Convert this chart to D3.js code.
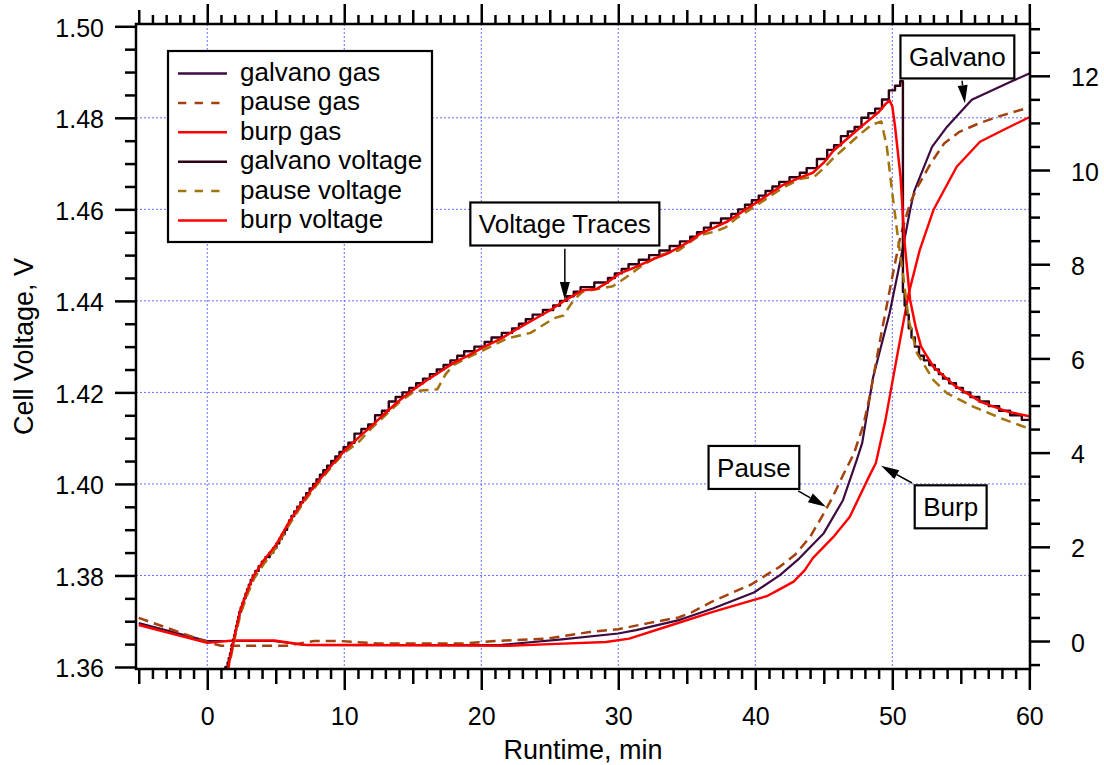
<!DOCTYPE html>
<html>
<head>
<meta charset="utf-8">
<script src="https://cdn.jsdelivr.net/npm/d3@7"></script>
<style>
  html, body { margin: 0; padding: 0; background: #fff; }
  svg { display: block; font-family: "Liberation Sans", Arial, Helvetica, sans-serif; }
</style>
</head>
<body>
<svg id="chart" width="1104" height="765"></svg>
<script>
// ---- Gas evolved (right axis) vs runtime (min), one series per charging mode ----
const galvanoGas = [[-5,0.38],[0,0.0],[4.8,0.0],[7.2,-0.085],[21.5,-0.08],[25.7,0.03],[30,0.16],[31.3,0.23],[34.5,0.45],[36.9,0.69],[39.9,1.03],[41.8,1.40],[43.2,1.75],[45.0,2.29],[46.4,2.99],[47.4,3.84],[47.8,4.2],[48.6,5.6],[49.8,6.96],[50.6,8.09],[51.3,9.15],[51.6,9.55],[52.9,10.49],[54.0,10.92],[55.8,11.49],[58.6,11.87],[60,12.05]];

const pauseGas = [[-5,0.49],[0,-0.02],[1,-0.1],[5.8,-0.1],[7.8,0.0],[9.7,0.0],[12.4,-0.05],[18.9,-0.05],[21,0.0],[24.8,0.05],[27.9,0.19],[30,0.25],[32.2,0.38],[34.4,0.50],[35.3,0.6],[36.8,0.83],[38.2,1.01],[39.7,1.20],[40.9,1.42],[41.8,1.58],[42.9,1.83],[44.0,2.21],[45.0,2.71],[45.6,3.03],[46.4,3.52],[47.2,3.98],[47.9,4.6],[48.4,5.26],[49.2,6.53],[50.0,7.73],[50.6,8.6],[51.3,9.3],[51.8,9.62],[52.8,10.14],[53.8,10.57],[54.9,10.81],[56.4,11.0],[57.9,11.15],[60,11.33]];

const burpGas = [[-5,0.34],[0,-0.04],[1.9,0.01],[4.9,0.01],[7,-0.08],[22,-0.1],[25.5,-0.06],[29.1,-0.02],[30.8,0.05],[33.9,0.34],[36.9,0.62],[39.4,0.83],[40.9,0.96],[41.6,1.07],[42.8,1.26],[43.6,1.5],[44.2,1.76],[45.7,2.21],[46.9,2.64],[48.3,3.49],[48.8,3.78],[49.5,4.69],[50.3,5.97],[51.2,7.38],[52.0,8.30],[53.0,9.15],[54.7,10.07],[56.4,10.60],[58.1,10.85],[60,11.12]];

// ---- Cell voltage (left axis) vs runtime (min) ----
// galvano voltage is logged at 1 mV resolution, so it is drawn as a staircase
const galvanoVoltage = [[1.2,1.357],[1.45,1.360],[1.53,1.361],[1.62,1.362],[1.70,1.363],[1.78,1.364],[1.85,1.365],[1.93,1.366],[2.00,1.367],[2.07,1.368],[2.15,1.369],[2.22,1.370],[2.30,1.371],[2.38,1.372],[2.51,1.373],[2.62,1.374],[2.73,1.375],[2.85,1.376],[2.97,1.377],[3.1,1.378],[3.24,1.379],[3.4,1.380],[3.63,1.381],[3.87,1.382],[4.1,1.383],[4.4,1.384],[4.7,1.385],[4.95,1.386],[5.15,1.387],[5.35,1.388],[5.55,1.389],[5.75,1.390],[5.9,1.391],[6.05,1.392],[6.25,1.393],[6.45,1.394],[6.7,1.395],[6.9,1.396],[7.1,1.397],[7.35,1.398],[7.6,1.399],[7.85,1.400],[8.1,1.401],[8.35,1.402],[8.6,1.403],[8.9,1.404],[9.2,1.405],[9.5,1.406],[9.8,1.407],[10.1,1.408],[10.5,1.409],[11.0,1.411],[11.5,1.412],[12.0,1.413],[12.5,1.415],[13.0,1.416],[13.5,1.418],[14.0,1.419],[14.5,1.420],[15.0,1.421],[15.5,1.422],[16.0,1.423],[16.5,1.424],[17.0,1.425],[17.5,1.426],[18.0,1.427],[18.5,1.428],[19.0,1.429],[20.0,1.430],[20.5,1.431],[21.0,1.432],[22.0,1.433],[22.5,1.434],[23.0,1.435],[23.5,1.436],[24.0,1.437],[25.0,1.438],[25.5,1.439],[26.0,1.440],[26.5,1.441],[27.0,1.442],[27.5,1.443],[29.0,1.444],[29.5,1.445],[30.0,1.446],[30.5,1.447],[31.0,1.448],[32.0,1.449],[32.5,1.450],[33.5,1.451],[34.0,1.452],[35.0,1.453],[35.5,1.454],[36.0,1.455],[36.5,1.456],[37.0,1.457],[38.0,1.458],[38.5,1.459],[39.0,1.460],[39.5,1.461],[40.0,1.462],[40.5,1.463],[41.0,1.464],[41.5,1.465],[42.0,1.466],[43.0,1.467],[43.5,1.468],[44.0,1.469],[45.0,1.471],[45.5,1.473],[46.0,1.474],[46.5,1.476],[47.0,1.477],[47.5,1.478],[48.0,1.480],[48.5,1.481],[49.0,1.482],[49.5,1.484],[50.0,1.486],[50.4,1.487],[50.75,1.488],[50.8,1.442],[51.0,1.439],[51.1,1.437],[51.3,1.434],[51.5,1.432],[51.8,1.430],[52.1,1.428],[52.5,1.427],[52.9,1.426],[53.3,1.425],[53.5,1.424],[53.9,1.423],[54.4,1.422],[54.9,1.421],[55.4,1.420],[56.0,1.419],[56.7,1.418],[57.4,1.417],[58.2,1.416],[59.0,1.415],[59.9,1.414],[60.2,1.414]];

const pauseVoltage = [[1.45,1.3585],[1.75,1.3625],[2.05,1.3668],[2.45,1.3718],[2.95,1.3760],[3.45,1.3795],[4.2,1.3828],[5,1.3860],[6,1.3912],[7,1.3958],[8,1.3998],[9,1.4035],[10,1.4068],[11,1.4090],[12,1.4122],[13,1.4150],[14,1.4178],[15,1.4200],[15.6,1.4204],[16.8,1.4207],[17.4,1.4240],[18,1.4260],[19,1.4276],[20,1.4290],[21.9,1.4318],[23.6,1.4330],[25.3,1.4362],[26.0,1.4368],[26.7,1.4400],[27.4,1.4420],[28.7,1.4427],[29.6,1.4432],[30.6,1.4452],[31.6,1.4474],[33.0,1.4500],[34.4,1.4510],[35.3,1.4530],[36.0,1.4544],[37.0,1.4551],[37.8,1.4560],[38.6,1.4580],[40.0,1.4607],[42.0,1.4647],[43.3,1.4667],[44.3,1.4671],[45.0,1.4690],[45.7,1.4712],[47.6,1.4763],[48.5,1.4785],[49.2,1.4792],[49.6,1.4737],[50.0,1.4635],[50.4,1.4541],[50.8,1.4453],[51.2,1.4358],[51.8,1.4286],[53.0,1.4227],[54.0,1.4198],[55.9,1.4169],[57.9,1.4144],[59.6,1.4125],[60,1.4122]];

const burpVoltage = [[1.45,1.3585],[1.7,1.3625],[2.0,1.3668],[2.4,1.3722],[2.9,1.3765],[3.4,1.3800],[4.1,1.3832],[5,1.3866],[6,1.3918],[7,1.3963],[8,1.4002],[9,1.4038],[10,1.4072],[11,1.4100],[12,1.4127],[13,1.4155],[14,1.4182],[15,1.4205],[16,1.4226],[17,1.4245],[18,1.4265],[19,1.4280],[20,1.4296],[21.4,1.4317],[22.3,1.4333],[23.1,1.4347],[24,1.4362],[25,1.4379],[26.1,1.4401],[27.4,1.4423],[28.4,1.4426],[29.2,1.4440],[30.1,1.4460],[31.2,1.4473],[32.6,1.4492],[33.5,1.4502],[34.5,1.4518],[35.2,1.4530],[36,1.4547],[37,1.4560],[38,1.4574],[39.3,1.4600],[40,1.4613],[41,1.4633],[42,1.4653],[43.3,1.4670],[44.2,1.4680],[45,1.4702],[45.7,1.4728],[47,1.4762],[48.1,1.4790],[49,1.4812],[49.5,1.4830],[49.8,1.4838],[50.0,1.4825],[50.2,1.4781],[50.6,1.4672],[50.9,1.4526],[51.3,1.4402],[51.7,1.4344],[52.1,1.4300],[53.0,1.4256],[54.5,1.4216],[56.4,1.4180],[58.4,1.4158],[60,1.4148]];

// ---- Axis tick labels ----
const xTickLabels = [0, 10, 20, 30, 40, 50, 60];
const voltTickLabels = [1.36, 1.38, 1.40, 1.42, 1.44, 1.46, 1.48, 1.50];
const gasTickLabels = [0, 2, 4, 6, 8, 10, 12];

// ---- Series styling (legend order = drawing order) ----
const series = [
  { name: "galvano gas",     data: galvanoGas,     axis: "gas",  color: "#3d0b40", dash: null,   width: 2.2 },
  { name: "pause gas",       data: pauseGas,       axis: "gas",  color: "#a3420e", dash: "10,6", width: 2.5 },
  { name: "burp gas",        data: burpGas,        axis: "gas",  color: "#ff0000", dash: null,   width: 2.4 },
  { name: "galvano voltage", data: galvanoVoltage, axis: "volt", color: "#2e0014", dash: null,   width: 2.4, step: true },
  { name: "pause voltage",   data: pauseVoltage,   axis: "volt", color: "#a2720c", dash: "10,6", width: 2.5 },
  { name: "burp voltage",    data: burpVoltage,    axis: "volt", color: "#ff0000", dash: null,   width: 2.5 }
];

// ---- Callout labels: box centre (runtime, volts) and arrow from/to ----
const callouts = [
  { text: "Voltage Traces", at: [26.1, 1.4568], from: [26.1, 1.4514], tip: [26.1, 1.4402], tipAxis: "volt" },
  { text: "Pause",          at: [39.9, 1.4036], from: [43.13, 1.3985], tip: [45.16, 2.85], tipAxis: "gas" },
  { text: "Burp",           at: [54.26, 1.3950], from: [51.44, 1.4002], tip: [49.18, 3.72], tipAxis: "gas" },
  { text: "Galvano",        at: [54.75, 1.4933], from: [55.09, 1.4881], tip: [55.3, 11.42], tipAxis: "gas" }
];

// ---- Layout ----
const plot = { left: 136, top: 24, right: 1030, bottom: 669 };
const FONT = '"Liberation Sans", Arial, Helvetica, sans-serif';

const x  = d3.scaleLinear().domain([-5.2, 60.05]).range([plot.left, plot.right]);
const yV = d3.scaleLinear().domain([1.35956, 1.5005]).range([plot.bottom, plot.top]);
const yG = d3.scaleLinear().domain([-0.594, 13.1]).range([plot.bottom, plot.top]);

const svg = d3.select("#chart");

svg.append("defs").append("clipPath").attr("id", "plot-clip")
  .append("rect")
  .attr("x", plot.left).attr("y", plot.top)
  .attr("width", plot.right - plot.left).attr("height", plot.bottom - plot.top);

// ---- Dotted grid at the major ticks ----
const grid = svg.append("g").attr("stroke", "#6b6bff").attr("stroke-width", 1).attr("stroke-dasharray", "2,2");
grid.selectAll("line.v").data(xTickLabels).join("line")
  .attr("x1", d => x(d)).attr("x2", d => x(d))
  .attr("y1", plot.top).attr("y2", plot.bottom);
grid.selectAll("line.h").data(voltTickLabels.slice(1, -1)).join("line")
  .attr("x1", plot.left).attr("x2", plot.right)
  .attr("y1", d => yV(d)).attr("y2", d => yV(d));

// ---- Traces ----
const traces = svg.append("g").attr("clip-path", "url(#plot-clip)");
series.forEach(s => {
  const yScale = s.axis === "gas" ? yG : yV;
  const line = d3.line()
    .x(d => x(d[0]))
    .y(d => yScale(d[1]))
    .curve(s.step ? d3.curveStep : d3.curveLinear);
  traces.append("path")
    .datum(s.data)
    .attr("d", line)
    .attr("fill", "none")
    .attr("stroke", s.color)
    .attr("stroke-width", s.width)
    .attr("stroke-linejoin", "round")
    .attr("stroke-dasharray", s.dash);
});

// ---- Axes ----
function styleAxis(g) {
  g.select(".domain").remove();
  g.selectAll(".tick line").attr("stroke", "#000").attr("stroke-width", 2.5);
  g.selectAll(".tick text")
    .style("font-family", FONT).style("font-size", "25px").attr("fill", "#000");
}

const xMinor = d3.range(-5, 61);
const xLen = d => (d % 10 === 0 ? 21 : d % 5 === 0 ? 15 : 10);

svg.append("g").attr("transform", `translate(0,${plot.bottom})`)
  .call(d3.axisBottom(x).tickValues(xMinor).tickSizeOuter(0)
    .tickFormat(d => xTickLabels.includes(d) ? d3.format("d")(d) : ""))
  .call(styleAxis)
  .call(g => {
    g.selectAll(".tick line").attr("y2", d => xLen(d));
    g.selectAll(".tick text").attr("dy", null).attr("y", 56);
  });

svg.append("g").attr("transform", `translate(0,${plot.top})`)
  .call(d3.axisTop(x).tickValues(xMinor).tickSizeOuter(0).tickFormat(""))
  .call(styleAxis)
  .call(g => g.selectAll(".tick line").attr("y2", d => -(xLen(d) - 1)));

const voltTicks = d3.range(0, 29).map(i => +(1.36 + i * 0.005).toFixed(3));
const isVoltMajor = d => voltTickLabels.some(v => Math.abs(v - d) < 1e-6);
svg.append("g").attr("transform", `translate(${plot.left},0)`)
  .call(d3.axisLeft(yV).tickValues(voltTicks).tickSizeOuter(0)
    .tickFormat(d => isVoltMajor(d) ? d3.format(".2f")(d) : ""))
  .call(styleAxis)
  .call(g => {
    g.selectAll(".tick line").attr("x2", d => isVoltMajor(d) ? -21 : -11);
    g.selectAll(".tick text").attr("dy", null).attr("x", -32).attr("y", 10);
  });

const gasTicks = d3.range(-1, 27).map(i => i * 0.5);
const isGasMajor = d => gasTickLabels.includes(d);
svg.append("g").attr("transform", `translate(${plot.right},0)`)
  .call(d3.axisRight(yG).tickValues(gasTicks).tickSizeOuter(0)
    .tickFormat(d => isGasMajor(d) ? d3.format("d")(d) : ""))
  .call(styleAxis)
  .call(g => {
    g.selectAll(".tick line").attr("x2", d => isGasMajor(d) ? 20 : 10);
    g.selectAll(".tick text").attr("dy", null).attr("x", 41).attr("y", 10);
  });

// ---- Plot frame ----
svg.append("rect")
  .attr("x", plot.left).attr("y", plot.top)
  .attr("width", plot.right - plot.left).attr("height", plot.bottom - plot.top)
  .attr("fill", "none").attr("stroke", "#000").attr("stroke-width", 2.5);

// ---- Axis titles ----
svg.append("text")
  .attr("x", (plot.left + plot.right) / 2).attr("y", 759)
  .attr("text-anchor", "middle")
  .style("font-family", FONT).style("font-size", "27px")
  .text("Runtime, min");

svg.append("text")
  .attr("transform", `translate(33,${(plot.top + plot.bottom) / 2}) rotate(-90)`)
  .attr("text-anchor", "middle")
  .style("font-family", FONT).style("font-size", "27px")
  .text("Cell Voltage, V");

// ---- Legend ----
const legend = svg.append("g");
legend.append("rect")
  .attr("x", 168).attr("y", 51).attr("width", 264).attr("height", 191)
  .attr("fill", "#fff").attr("stroke", "#000").attr("stroke-width", 2.2);
series.forEach((s, i) => {
  const rowY = 73.5 + i * 29.4;
  legend.append("line")
    .attr("x1", 178).attr("x2", 227).attr("y1", rowY).attr("y2", rowY)
    .attr("stroke", s.color).attr("stroke-width", 2.5)
    .attr("stroke-dasharray", s.dash ? "8.3,8.3" : null);
  legend.append("text")
    .attr("x", 240).attr("y", rowY + 7.5)
    .style("font-family", FONT).style("font-size", "26px")
    .text(s.name);
});

// ---- Callouts with arrows ----
const notes = svg.append("g");
callouts.forEach(c => {
  const cx = x(c.at[0]), cy = yV(c.at[1]);
  const g = notes.append("g");
  const box = g.append("rect");
  const label = g.append("text")
    .attr("x", cx).attr("y", cy + 9.5)
    .attr("text-anchor", "middle")
    .style("font-family", FONT).style("font-size", "26px")
    .text(c.text);
  const w = label.node().getComputedTextLength() + 17;
  const h = 43;
  box.attr("x", cx - w / 2).attr("y", cy - h / 2).attr("width", w).attr("height", h)
    .attr("fill", "#fff").attr("stroke", "#000").attr("stroke-width", 2.2);

  const tipScale = c.tipAxis === "gas" ? yG : yV;
  const x0 = x(c.from[0]), y0 = yV(c.from[1]);
  const x1 = x(c.tip[0]),  y1 = tipScale(c.tip[1]);
  const len = Math.hypot(x1 - x0, y1 - y0);
  const ux = (x1 - x0) / len, uy = (y1 - y0) / len;
  const head = 18, half = 5;
  const bx = x1 - ux * head, by = y1 - uy * head;
  g.append("line")
    .attr("x1", x0).attr("y1", y0).attr("x2", bx).attr("y2", by)
    .attr("stroke", "#000").attr("stroke-width", 1.5);
  g.append("path")
    .attr("d", `M${x1},${y1}L${bx - uy * half},${by + ux * half}L${bx + uy * half},${by - ux * half}Z`)
    .attr("fill", "#000");
});
</script>
</body>
</html>
